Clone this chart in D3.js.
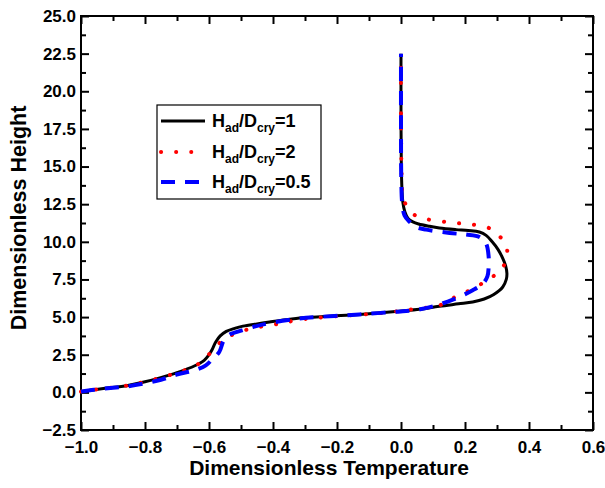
<!DOCTYPE html>
<html><head><meta charset="utf-8">
<script src="https://cdn.jsdelivr.net/npm/d3@7"></script>
<style>
html,body{margin:0;padding:0;background:#fff;}
svg{display:block;font-family:"Liberation Sans",Arial,Helvetica,sans-serif;font-weight:bold;}
</style></head>
<body><svg id="c" width="605" height="488"></svg>
<script>
// ---- data (T = dimensionless temperature, H = dimensionless height) ----
const seriesNames = ["1", "2", "0.5"];
const xMajorTicks = [-1.0,-0.8,-0.6,-0.4,-0.2,0.0,0.2,0.4,0.6];
const yMajorTicks = [-2.5,0,2.5,5,7.5,10,12.5,15,17.5,20,22.5,25];

const ratio1 = [
  [-1.0,0.05],[-0.93,0.25],[-0.854,0.46],[-0.8,0.7],[-0.751,0.98],[-0.698,1.33],
  [-0.646,1.75],[-0.615,2.13],[-0.6,2.5],[-0.59,2.85],[-0.579,3.34],[-0.565,3.75],
  [-0.546,4.05],[-0.52,4.25],[-0.494,4.4],[-0.45,4.55],[-0.411,4.67],[-0.36,4.82],
  [-0.307,4.95],[-0.25,5.03],[-0.171,5.12],[-0.1,5.22],[-0.026,5.35],[0.05,5.5],
  [0.12,5.72],[0.18,5.88],[0.224,6.0],[0.26,6.2],[0.29,6.5],[0.318,7.0],[0.329,7.5],
  [0.331,7.9],[0.327,8.4],[0.318,8.9],[0.303,9.5],[0.285,10.0],[0.266,10.43],
  [0.245,10.65],[0.21,10.75],[0.172,10.81],[0.12,10.92],[0.089,11.03],[0.055,11.18],
  [0.037,11.32],[0.022,11.55],[0.012,12.0],[0.006,12.6],[0.003,13.5],[0.001,15],
  [0.0,18],[0.0,22.5]
];
const ratio2 = [
  [-1.0,0.05],[-0.93,0.25],[-0.854,0.46],[-0.8,0.7],[-0.751,0.98],[-0.692,1.35],
  [-0.645,1.73],[-0.62,2.1],[-0.598,2.57],[-0.578,3.05],[-0.557,3.46],[-0.535,3.75],
  [-0.51,3.97],[-0.463,4.27],[-0.411,4.45],[-0.364,4.63],[-0.317,4.83],[-0.25,4.97],
  [-0.171,5.1],[-0.1,5.2],[-0.026,5.34],[0.027,5.49],[0.08,5.62],[0.12,5.78],
  [0.15,6.05],[0.172,6.38],[0.219,6.82],[0.266,7.4],[0.3,7.9],[0.318,8.3],[0.332,9.0],
  [0.332,9.4],[0.323,9.9],[0.313,10.25],[0.29,10.7],[0.268,10.98],[0.219,11.16],
  [0.172,11.25],[0.123,11.36],[0.073,11.54],[0.045,11.75],[0.027,12.1],[0.012,12.6],
  [0.005,13.1],[0.002,14.5],[0.0,18],[0.0,22.5]
];
const ratio05 = [
  [-1.0,0.05],[-0.959,0.18],[-0.9,0.3],[-0.855,0.4],[-0.8,0.6],[-0.75,0.84],
  [-0.698,1.2],[-0.646,1.46],[-0.61,1.79],[-0.59,2.2],[-0.568,2.68],[-0.553,3.5],
  [-0.535,3.85],[-0.515,4.0],[-0.463,4.34],[-0.411,4.6],[-0.317,4.9],[-0.25,5.02],
  [-0.171,5.12],[-0.1,5.22],[-0.026,5.34],[0.016,5.4],[0.06,5.52],[0.1,5.71],
  [0.162,6.16],[0.224,6.78],[0.256,7.22],[0.27,7.7],[0.274,8.33],[0.274,8.99],
  [0.266,9.88],[0.245,10.32],[0.204,10.48],[0.152,10.59],[0.079,10.81],[0.045,11.0],
  [0.027,11.32],[0.011,11.76],[0.004,12.5],[0.001,14],[0.0,18],[0.0,22.5]
];

const series = [
  {name:"1",   data:ratio1,  color:"#000000", width:3,   dash:null,     cap:"butt"},
  {name:"2",   data:ratio2,  color:"#ff0000", width:4,   dash:"0.1,15", cap:"round"},
  {name:"0.5", data:ratio05, color:"#0000ff", width:4,   dash:"14,10",  cap:"butt"}
];

// ---- layout ----
const svg = d3.select("#c");
svg.append("rect").attr("width",605).attr("height",488).attr("fill","#fff");
const L = 81, R = 593, T = 16, B = 430;
const x = d3.scaleLinear().domain([-1.0,0.6]).range([L,R]);
const y = d3.scaleLinear().domain([-2.5,25]).range([B,T]);

const xMinor = d3.range(-0.9,0.6,0.2).map(v=>+v.toFixed(2));
const yMinor = d3.range(-1.25,25,2.5).map(v=>+v.toFixed(2));
const fmt = d3.format(".1f");

function styleAxis(g){
  g.select(".domain").remove();
  g.selectAll(".tick line").attr("stroke","#000").attr("stroke-width",2);
  g.selectAll("text").attr("fill","#000").style("font-size","17px").style("font-weight","bold")
    .style("font-family","'Liberation Sans',Arial,sans-serif");
}
// bottom
svg.append("g").attr("transform",`translate(0,${B})`)
  .call(d3.axisBottom(x).tickValues(xMajorTicks).tickSize(-8).tickPadding(11).tickFormat(fmt)).call(styleAxis);
svg.append("g").attr("transform",`translate(0,${B})`)
  .call(d3.axisBottom(x).tickValues(xMinor).tickSize(-5).tickFormat("")).call(styleAxis);
// top
svg.append("g").attr("transform",`translate(0,${T})`)
  .call(d3.axisTop(x).tickValues(xMajorTicks).tickSize(-8).tickFormat("")).call(styleAxis);
svg.append("g").attr("transform",`translate(0,${T})`)
  .call(d3.axisTop(x).tickValues(xMinor).tickSize(-5).tickFormat("")).call(styleAxis);
// left
svg.append("g").attr("transform",`translate(${L},0)`)
  .call(d3.axisLeft(y).tickValues(yMajorTicks).tickSize(-8).tickPadding(5).tickFormat(fmt)).call(styleAxis);
svg.append("g").attr("transform",`translate(${L},0)`)
  .call(d3.axisLeft(y).tickValues(yMinor).tickSize(-5).tickFormat("")).call(styleAxis);
// right
svg.append("g").attr("transform",`translate(${R},0)`)
  .call(d3.axisRight(y).tickValues(yMajorTicks).tickSize(-8).tickFormat("")).call(styleAxis);
svg.append("g").attr("transform",`translate(${R},0)`)
  .call(d3.axisRight(y).tickValues(yMinor).tickSize(-5).tickFormat("")).call(styleAxis);

// frame
svg.append("rect").attr("x",L).attr("y",T).attr("width",R-L).attr("height",B-T)
  .attr("fill","none").attr("stroke","#000").attr("stroke-width",2);

// curves
const line = d3.line().x(d=>x(d[0])).y(d=>y(d[1])).curve(d3.curveCatmullRom.alpha(0.5));
const plot = svg.append("g");
series.forEach(s=>{
  plot.append("path").datum(s.data).attr("d",line)
    .attr("fill","none").attr("stroke",s.color).attr("stroke-width",s.width)
    .attr("stroke-dasharray",s.dash).attr("stroke-linecap",s.cap).attr("stroke-linejoin","round");
});

// axis titles
svg.append("text").attr("x",329).attr("y",475).attr("text-anchor","middle")
  .style("font-size","21px").text("Dimensionless Temperature");
svg.append("text").attr("transform","translate(26,218) rotate(-90)").attr("text-anchor","middle")
  .style("font-size","21.5px").text("Dimensionless Height");

// legend
const lg = svg.append("g");
lg.append("rect").attr("x",157).attr("y",105).attr("width",164).attr("height",94)
  .attr("fill","#fff").attr("stroke","#000").attr("stroke-width",1.2);
const rowY = [121,152,182];
series.forEach((s,i)=>{
  lg.append("line").attr("x1",161).attr("x2",205).attr("y1",rowY[i]).attr("y2",rowY[i])
    .attr("stroke",s.color).attr("stroke-width",s.width)
    .attr("stroke-dasharray",s.dash).attr("stroke-linecap",s.cap);
  const t = lg.append("text").attr("x",212).attr("y",rowY[i]+6).style("font-size","18px");
  t.append("tspan").text("H");
  t.append("tspan").attr("dy",5).style("font-size","12px").text("ad");
  t.append("tspan").attr("dy",-5).text("/D");
  t.append("tspan").attr("dy",5).style("font-size","12px").text("cry");
  t.append("tspan").attr("dy",-5).text("=" + s.name);
});
</script></body></html>
